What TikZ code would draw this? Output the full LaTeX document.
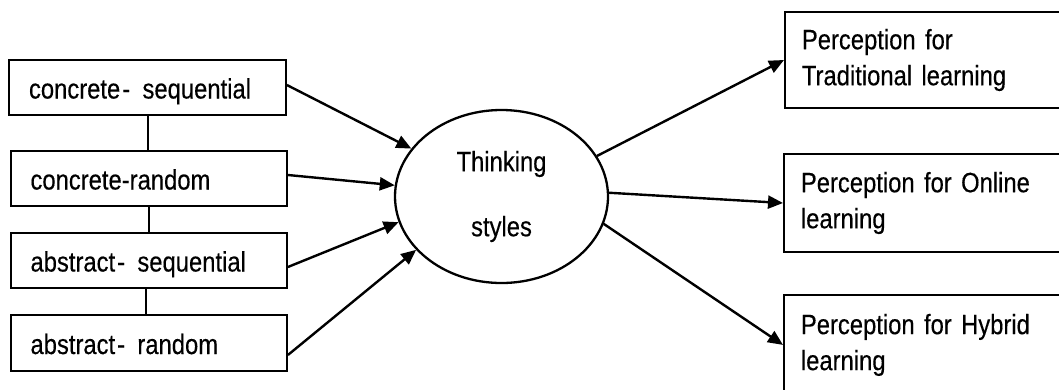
\documentclass[tikz,border=0pt]{standalone}
\usepackage{fontspec}
\setmainfont{Liberation Sans}[FakeStretch=0.85,FakeBold=0.3]
\usetikzlibrary{arrows.meta,shapes.geometric}
\begin{document}
\begin{tikzpicture}[x=1pt,y=-1pt,
  lbox/.style={draw,line width=1.8pt,minimum width=276pt,minimum height=55pt,
    text width=237pt,align=left,inner xsep=19.5pt,inner ysep=0pt,
    text height=25pt,text depth=3pt,font=\fontsize{28}{36}\selectfont},
  rbox/.style={draw,line width=1.8pt,minimum width=330pt,text width=296pt,
    align=left,inner xsep=17pt,inner ysep=0pt,font=\fontsize{28}{36}\selectfont},
  ellbox/.style={draw,ellipse,line width=2.3pt,minimum width=213pt,minimum height=173pt,
    inner sep=0pt,align=center,font=\fontsize{28}{65}\selectfont},
  arr/.style={line width=2.4pt,-{Triangle[length=15pt,width=13pt]}},
  link/.style={line width=1.8pt}]
\useasboundingbox (0,0) rectangle (1059,389);
\fill[white] (0,0) rectangle (1059,389);
\clip (0,0) rectangle (1059,389);

% left boxes
\node[lbox,minimum width=277pt] (b1) at (147.5,87.5) {concrete\kern2pt-\kern3pt\ sequential};
\node[lbox] (b2) at (149,178.5) {concrete-random};
\node[lbox] (b3) at (149,260.5) {abstract\kern2pt-\kern3pt\ sequential};
\node[lbox,minimum height=56pt] (b4) at (149,343) {abstract\kern2pt-\kern3pt\ random};

% vertical links
\draw[link] ([xshift=0.5pt]b1.south) -- ([xshift=0.5pt]b1.south |- b2.north);
\draw[link] (b2.south) -- (b3.north);
\draw[link] ([xshift=-3pt]b3.south) -- ([xshift=-3pt]b4.north);

% central ellipse
\node[ellbox] (ell) at (501.5,196.5) {Thinking\\styles};

% right boxes
\node[rbox,anchor=west,minimum height=96pt] (r1) at (784,60)
  {Perception for\\Traditional learning};
\node[rbox,anchor=west,minimum height=98pt] (r2) at (783,203)
  {Perception for Online\\learning};
\node[rbox,anchor=north west,minimum height=100pt] (r3) at (783,294)
  {Perception for Hybrid\\learning};

% arrows in
\draw[arr] ([yshift=2.5pt]b1.east) -- (ell.152.5);
\draw[arr] ([yshift=3.5pt]b2.east) -- (ell.174.4);
\draw[arr] ([yshift=-6.5pt]b3.east) -- (ell.194.9);
\draw[arr] ([yshift=-12pt]b4.east) -- (ell.212.9);

% arrows out
\draw[arr] (ell.23) -- (r1.west);
\draw[arr] (ell.2.4) -- (r2.west);
\draw[arr] (ell.-15.7) -- (r3.west);
\end{tikzpicture}
\end{document}
